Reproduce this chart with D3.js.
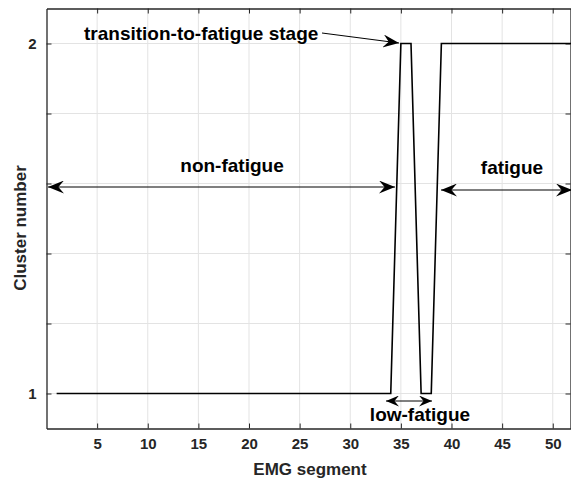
<!DOCTYPE html>
<meta charset="utf-8">
<script src="https://d3js.org/d3.v7.min.js"></script>
<style>
body { margin: 0; background: #fff; }
text { font-family: "Liberation Sans", Arial, sans-serif; font-weight: bold; }
</style>
<svg id="chart" width="571" height="479"></svg>
<script>
// cluster number per EMG segment
var segments = d3.range(1, 53);
var clusters = [1,1,1,1,1,1,1,1,1,1, 1,1,1,1,1,1,1,1,1,1,
                1,1,1,1,1,1,1,1,1,1, 1,1,1,1,2,2,1,1,2,2,
                2,2,2,2,2,2,2,2,2,2, 2,2];
var xTicks = [5, 10, 15, 20, 25, 30, 35, 40, 45, 50];
var yTicks = [1, 1.2, 1.4, 1.6, 1.8, 2];
var yLabels = [1, 2];

var svg = d3.select("#chart");
var mLeft = 46.5, mRight = 573, mTop = 8.5, mBottom = 428.5;

var x = d3.scaleLinear().domain([0, 52]).range([mLeft, mRight]);
var y = d3.scaleLinear().domain([0.9, 2.1]).range([mBottom, mTop]);

var axisColor = "#262626";

// grid
svg.append("g").selectAll("line").data(xTicks).enter().append("line")
    .attr("x1", function(d){ return x(d); }).attr("x2", function(d){ return x(d); })
    .attr("y1", mTop).attr("y2", mBottom)
    .attr("stroke", "#e3e3e3").attr("stroke-width", 1);
svg.append("g").selectAll("line").data(yTicks).enter().append("line")
    .attr("x1", mLeft).attr("x2", mRight)
    .attr("y1", function(d){ return y(d); }).attr("y2", function(d){ return y(d); })
    .attr("stroke", "#e3e3e3").attr("stroke-width", 1);

// axes (ticks point inward)
var tk = 5;
var gx = svg.append("g").attr("transform", "translate(0," + mBottom + ")")
    .call(d3.axisBottom(x).tickValues(xTicks).tickSizeInner(-tk).tickSizeOuter(0).tickPadding(10));
var gxt = svg.append("g").attr("transform", "translate(0," + mTop + ")")
    .call(d3.axisTop(x).tickValues(xTicks).tickSizeInner(-tk).tickSizeOuter(0).tickFormat(""));
var gy = svg.append("g").attr("transform", "translate(" + mLeft + ",0)")
    .call(d3.axisLeft(y).tickValues(yTicks).tickSizeInner(-tk).tickSizeOuter(0).tickPadding(10)
      .tickFormat(function(d){ return yLabels.indexOf(d) >= 0 ? d : ""; }));
var gyr = svg.append("g").attr("transform", "translate(" + (571 - 0.5) + ",0)")
    .call(d3.axisRight(y).tickValues(yTicks).tickSizeInner(-tk).tickSizeOuter(0).tickFormat(""));

[gx, gxt, gy, gyr].forEach(function(g){
  g.selectAll("path").attr("stroke", axisColor).attr("stroke-width", 1.3);
  g.selectAll("line").attr("stroke", axisColor);
  g.selectAll("text").attr("fill", axisColor).style("font-size", "15px")
    .style("font-family", "'Liberation Sans', Arial, sans-serif").style("font-weight", "bold");
});

// axis labels
svg.append("text").attr("x", 310).attr("y", 475)
  .attr("text-anchor", "middle").attr("fill", axisColor).style("font-size", "17px").text("EMG segment");
svg.append("text").attr("transform", "translate(26,228) rotate(-90)")
  .attr("text-anchor", "middle").attr("fill", axisColor).style("font-size", "17px").text("Cluster number");

// data line
var line = d3.line().x(function(d, i){ return x(segments[i]); }).y(function(d){ return y(d); });
svg.append("path").datum(clusters).attr("d", line)
  .attr("fill", "none").attr("stroke", "#000").attr("stroke-width", 1.6);

// arrowheads (matlab vback2 style)
var defs = svg.append("defs");
function head(id, w, h) {
  defs.append("marker").attr("id", id).attr("viewBox", "0 0 " + w + " " + h)
    .attr("refX", w).attr("refY", h / 2).attr("markerWidth", w).attr("markerHeight", h)
    .attr("markerUnits", "userSpaceOnUse").attr("orient", "auto-start-reverse")
    .append("path").attr("d", "M0,0 L" + w + "," + (h / 2) + " L0," + h + " L" + (w * 0.35) + "," + (h / 2) + " Z")
    .attr("fill", "#000");
}
head("big", 16, 13);
head("small", 13, 11);

function arrow(x1, y1, x2, y2, both, id) {
  var l = svg.append("line").attr("x1", x1).attr("y1", y1).attr("x2", x2).attr("y2", y2)
    .attr("stroke", "#000").attr("stroke-width", 1)
    .attr("marker-end", "url(#" + id + ")");
  if (both) l.attr("marker-start", "url(#" + id + ")");
}

// annotations
svg.append("text").attr("x", 84).attr("y", 40).style("font-size", "19px").attr("fill", "#000")
  .text("transition-to-fatigue stage");
arrow(322, 33, 399, 43, false, "big");

svg.append("text").attr("x", 232).attr("y", 172).attr("text-anchor", "middle")
  .style("font-size", "19px").attr("fill", "#000").text("non-fatigue");
arrow(48, 187, 395, 187, true, "big");

svg.append("text").attr("x", 512).attr("y", 174).attr("text-anchor", "middle")
  .style("font-size", "19px").attr("fill", "#000").text("fatigue");
arrow(441, 190, 572, 190, true, "big");

svg.append("text").attr("x", 420).attr("y", 421).attr("text-anchor", "middle")
  .style("font-size", "19px").attr("fill", "#000").text("low-fatigue");
arrow(386, 401, 432, 401, true, "small");
</script>
